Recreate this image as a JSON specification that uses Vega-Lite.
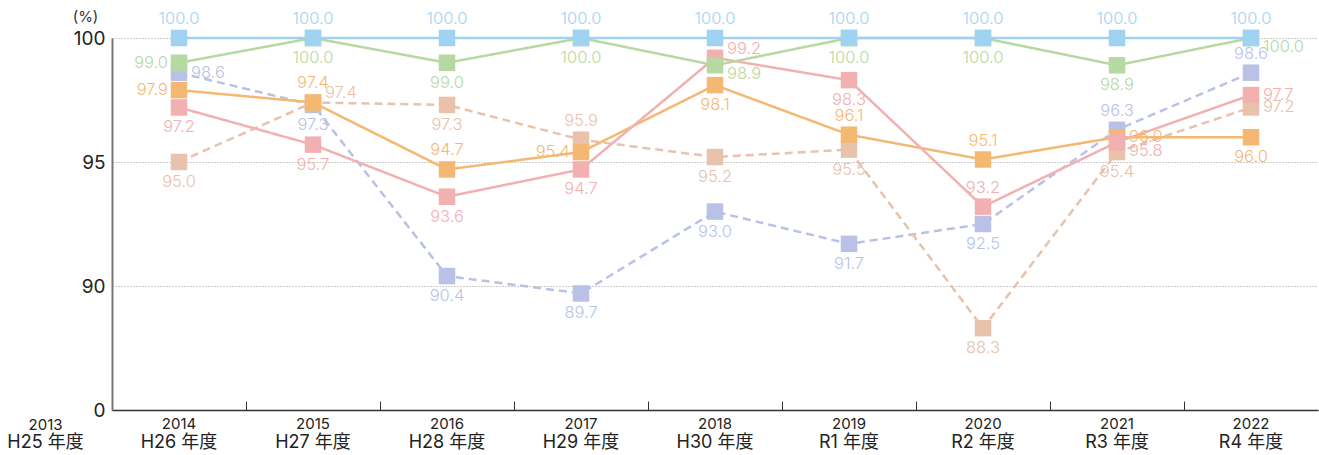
{
  "$schema": "https://vega.github.io/schema/vega-lite/v6.json",
  "width": 1206,
  "height": 372,
  "autosize": {"type": "none"},
  "padding": {"left": 112, "top": 38, "right": 1, "bottom": 45},
  "background": "white",
  "config": {"font": "Inter, Noto Sans CJK JP", "view": {"stroke": null}, "text": {"font": "Inter, Noto Sans CJK JP", "fontWeight": 300, "fontSize": 16.5}},
  "data": {"values": [
    {"s": "A", "year": "2014", "value": 98.6}, {"s": "A", "year": "2015", "value": 97.3}, {"s": "A", "year": "2016", "value": 90.4},
    {"s": "A", "year": "2017", "value": 89.7}, {"s": "A", "year": "2018", "value": 93.0}, {"s": "A", "year": "2019", "value": 91.7},
    {"s": "A", "year": "2020", "value": 92.5}, {"s": "A", "year": "2021", "value": 96.3}, {"s": "A", "year": "2022", "value": 98.6},
    {"s": "B", "year": "2014", "value": 95.0}, {"s": "B", "year": "2015", "value": 97.4}, {"s": "B", "year": "2016", "value": 97.3},
    {"s": "B", "year": "2017", "value": 95.9}, {"s": "B", "year": "2018", "value": 95.2}, {"s": "B", "year": "2019", "value": 95.5},
    {"s": "B", "year": "2020", "value": 88.3}, {"s": "B", "year": "2021", "value": 95.4}, {"s": "B", "year": "2022", "value": 97.2},
    {"s": "C", "year": "2014", "value": 97.9}, {"s": "C", "year": "2015", "value": 97.4}, {"s": "C", "year": "2016", "value": 94.7},
    {"s": "C", "year": "2017", "value": 95.4}, {"s": "C", "year": "2018", "value": 98.1}, {"s": "C", "year": "2019", "value": 96.1},
    {"s": "C", "year": "2020", "value": 95.1}, {"s": "C", "year": "2021", "value": 96.0}, {"s": "C", "year": "2022", "value": 96.0},
    {"s": "D", "year": "2014", "value": 97.2}, {"s": "D", "year": "2015", "value": 95.7}, {"s": "D", "year": "2016", "value": 93.6},
    {"s": "D", "year": "2017", "value": 94.7}, {"s": "D", "year": "2018", "value": 99.2}, {"s": "D", "year": "2019", "value": 98.3},
    {"s": "D", "year": "2020", "value": 93.2}, {"s": "D", "year": "2021", "value": 95.8}, {"s": "D", "year": "2022", "value": 97.7},
    {"s": "E", "year": "2014", "value": 99.0}, {"s": "E", "year": "2015", "value": 100.0}, {"s": "E", "year": "2016", "value": 99.0},
    {"s": "E", "year": "2017", "value": 100.0}, {"s": "E", "year": "2018", "value": 98.9}, {"s": "E", "year": "2019", "value": 100.0},
    {"s": "E", "year": "2020", "value": 100.0}, {"s": "E", "year": "2021", "value": 98.9}, {"s": "E", "year": "2022", "value": 100.0},
    {"s": "F", "year": "2014", "value": 100.0}, {"s": "F", "year": "2015", "value": 100.0}, {"s": "F", "year": "2016", "value": 100.0},
    {"s": "F", "year": "2017", "value": 100.0}, {"s": "F", "year": "2018", "value": 100.0}, {"s": "F", "year": "2019", "value": 100.0},
    {"s": "F", "year": "2020", "value": 100.0}, {"s": "F", "year": "2021", "value": 100.0}, {"s": "F", "year": "2022", "value": 100.0}
  ]},
  "encoding": {
    "y": {
      "field": "value", "type": "quantitative",
      "scale": {"domain": [85, 100], "zero": false, "nice": false},
      "axis": {
        "values": [85, 90, 95, 100],
        "labelExpr": "datum.value == 85 ? '0' : datum.label",
        "grid": true, "gridDash": [1, 2], "gridColor": "#9a9a9a", "gridWidth": 1,
        "domainColor": "#777777", "domainWidth": 2, "ticks": false,
        "labelFontSize": 19, "labelPadding": 7, "labelColor": "#222222",
        "title": "(%)", "titleAngle": 0, "titleX": -27, "titleY": -22, "titleFontSize": 15,
        "titleFontWeight": "normal", "titleAlign": "center", "titleBaseline": "middle", "titleColor": "#333333"
      }
    },
    "color": {
      "field": "s", "type": "nominal", "legend": null,
      "scale": {"domain": ["A", "B", "C", "D", "E", "F"], "range": ["#b9c2e6", "#e8c2ab", "#f5b873", "#f2b0b1", "#b5d9a1", "#9fd3f1"]}
    }
  },
  "layer": [
    {
      "mark": {"type": "line", "strokeWidth": 2.5},
      "encoding": {
        "x": {
          "field": "year", "type": "ordinal",
          "scale": {"type": "band", "paddingInner": 0, "paddingOuter": 0},
          "axis": {
            "orient": "bottom", "labelAngle": 0, "domainColor": "#333333", "domainWidth": 1.5,
            "ticks": true, "tickColor": "#333333", "tickSize": -9, "tickWidth": 1, "bandPosition": 0,
            "labelFontSize": 15, "labelPadding": 15, "labelColor": "#222222", "grid": false,
            "title": "2013", "titleFontSize": 15, "titleFontWeight": "normal", "titleColor": "#222222",
            "titleX": -67, "titleY": 14, "titleAlign": "center", "titleBaseline": "middle"
          }
        },
        "strokeDash": {
          "field": "s", "type": "nominal", "legend": null,
          "scale": {"domain": ["A", "B", "C", "D", "E", "F"], "range": [[8, 5], [8, 5], [1, 0], [1, 0], [1, 0], [1, 0]]}
        }
      }
    },
    {
      "mark": {"type": "point", "shape": "square", "filled": true, "size": 272, "opacity": 1},
      "encoding": {
        "x": {
          "field": "year", "type": "ordinal",
          "axis": {
            "orient": "bottom", "labelAngle": 0, "domain": false, "ticks": false, "grid": false,
            "labelExpr": "['H26 年度','H27 年度','H28 年度','H29 年度','H30 年度','R1 年度','R2 年度','R3 年度','R4 年度'][toNumber(datum.value) - 2014]",
            "labelFontSize": 18, "labelPadding": 23, "labelColor": "#222222",
            "title": "H25 年度", "titleFontSize": 18, "titleFontWeight": "normal", "titleColor": "#222222",
            "titleX": -67, "titleY": 32, "titleAlign": "center", "titleBaseline": "middle"
          }
        }
      }
    },
    {
      "transform": [{"filter": "indexof(['F2014','F2015','F2016','F2017','F2018','F2019','F2020','F2021','F2022','C2015','C2016','C2019','C2020','D2020','A2021','A2022','B2017'], datum.s + datum.year) >= 0"}],
      "mark": {"type": "text", "baseline": "middle", "align": "center", "dy": -19},
      "encoding": {"x": {"field": "year", "type": "ordinal", "axis": null}, "text": {"field": "value", "type": "quantitative", "format": ".1f"}}
    },
    {
      "transform": [{"filter": "indexof(['E2015','E2016','E2017','E2019','E2020','E2021','C2018','C2022','D2014','D2015','D2016','D2017','D2019','A2015','A2016','A2017','A2018','A2019','A2020','B2014','B2016','B2018','B2019','B2020','B2021'], datum.s + datum.year) >= 0"}],
      "mark": {"type": "text", "baseline": "middle", "align": "center", "dy": 20},
      "encoding": {"x": {"field": "year", "type": "ordinal", "axis": null}, "text": {"field": "value", "type": "quantitative", "format": ".1f"}}
    },
    {
      "transform": [{"filter": "indexof(['A2014','C2021','D2022','B2022'], datum.s + datum.year) >= 0"}],
      "mark": {"type": "text", "baseline": "middle", "align": "left", "dx": 12, "dy": 0},
      "encoding": {"x": {"field": "year", "type": "ordinal", "axis": null}, "text": {"field": "value", "type": "quantitative", "format": ".1f"}}
    },
    {
      "transform": [{"filter": "indexof(['D2018','B2015'], datum.s + datum.year) >= 0"}],
      "mark": {"type": "text", "baseline": "middle", "align": "left", "dx": 12, "dy": -9},
      "encoding": {"x": {"field": "year", "type": "ordinal", "axis": null}, "text": {"field": "value", "type": "quantitative", "format": ".1f"}}
    },
    {
      "transform": [{"filter": "indexof(['E2018','E2022','D2021'], datum.s + datum.year) >= 0"}],
      "mark": {"type": "text", "baseline": "middle", "align": "left", "dx": 12, "dy": 9},
      "encoding": {"x": {"field": "year", "type": "ordinal", "axis": null}, "text": {"field": "value", "type": "quantitative", "format": ".1f"}}
    },
    {
      "transform": [{"filter": "indexof(['E2014','C2014','C2017'], datum.s + datum.year) >= 0"}],
      "mark": {"type": "text", "baseline": "middle", "align": "right", "dx": -11, "dy": 0},
      "encoding": {"x": {"field": "year", "type": "ordinal", "axis": null}, "text": {"field": "value", "type": "quantitative", "format": ".1f"}}
    }
  ],
  "resolve": {"axis": {"x": "independent"}}
}
